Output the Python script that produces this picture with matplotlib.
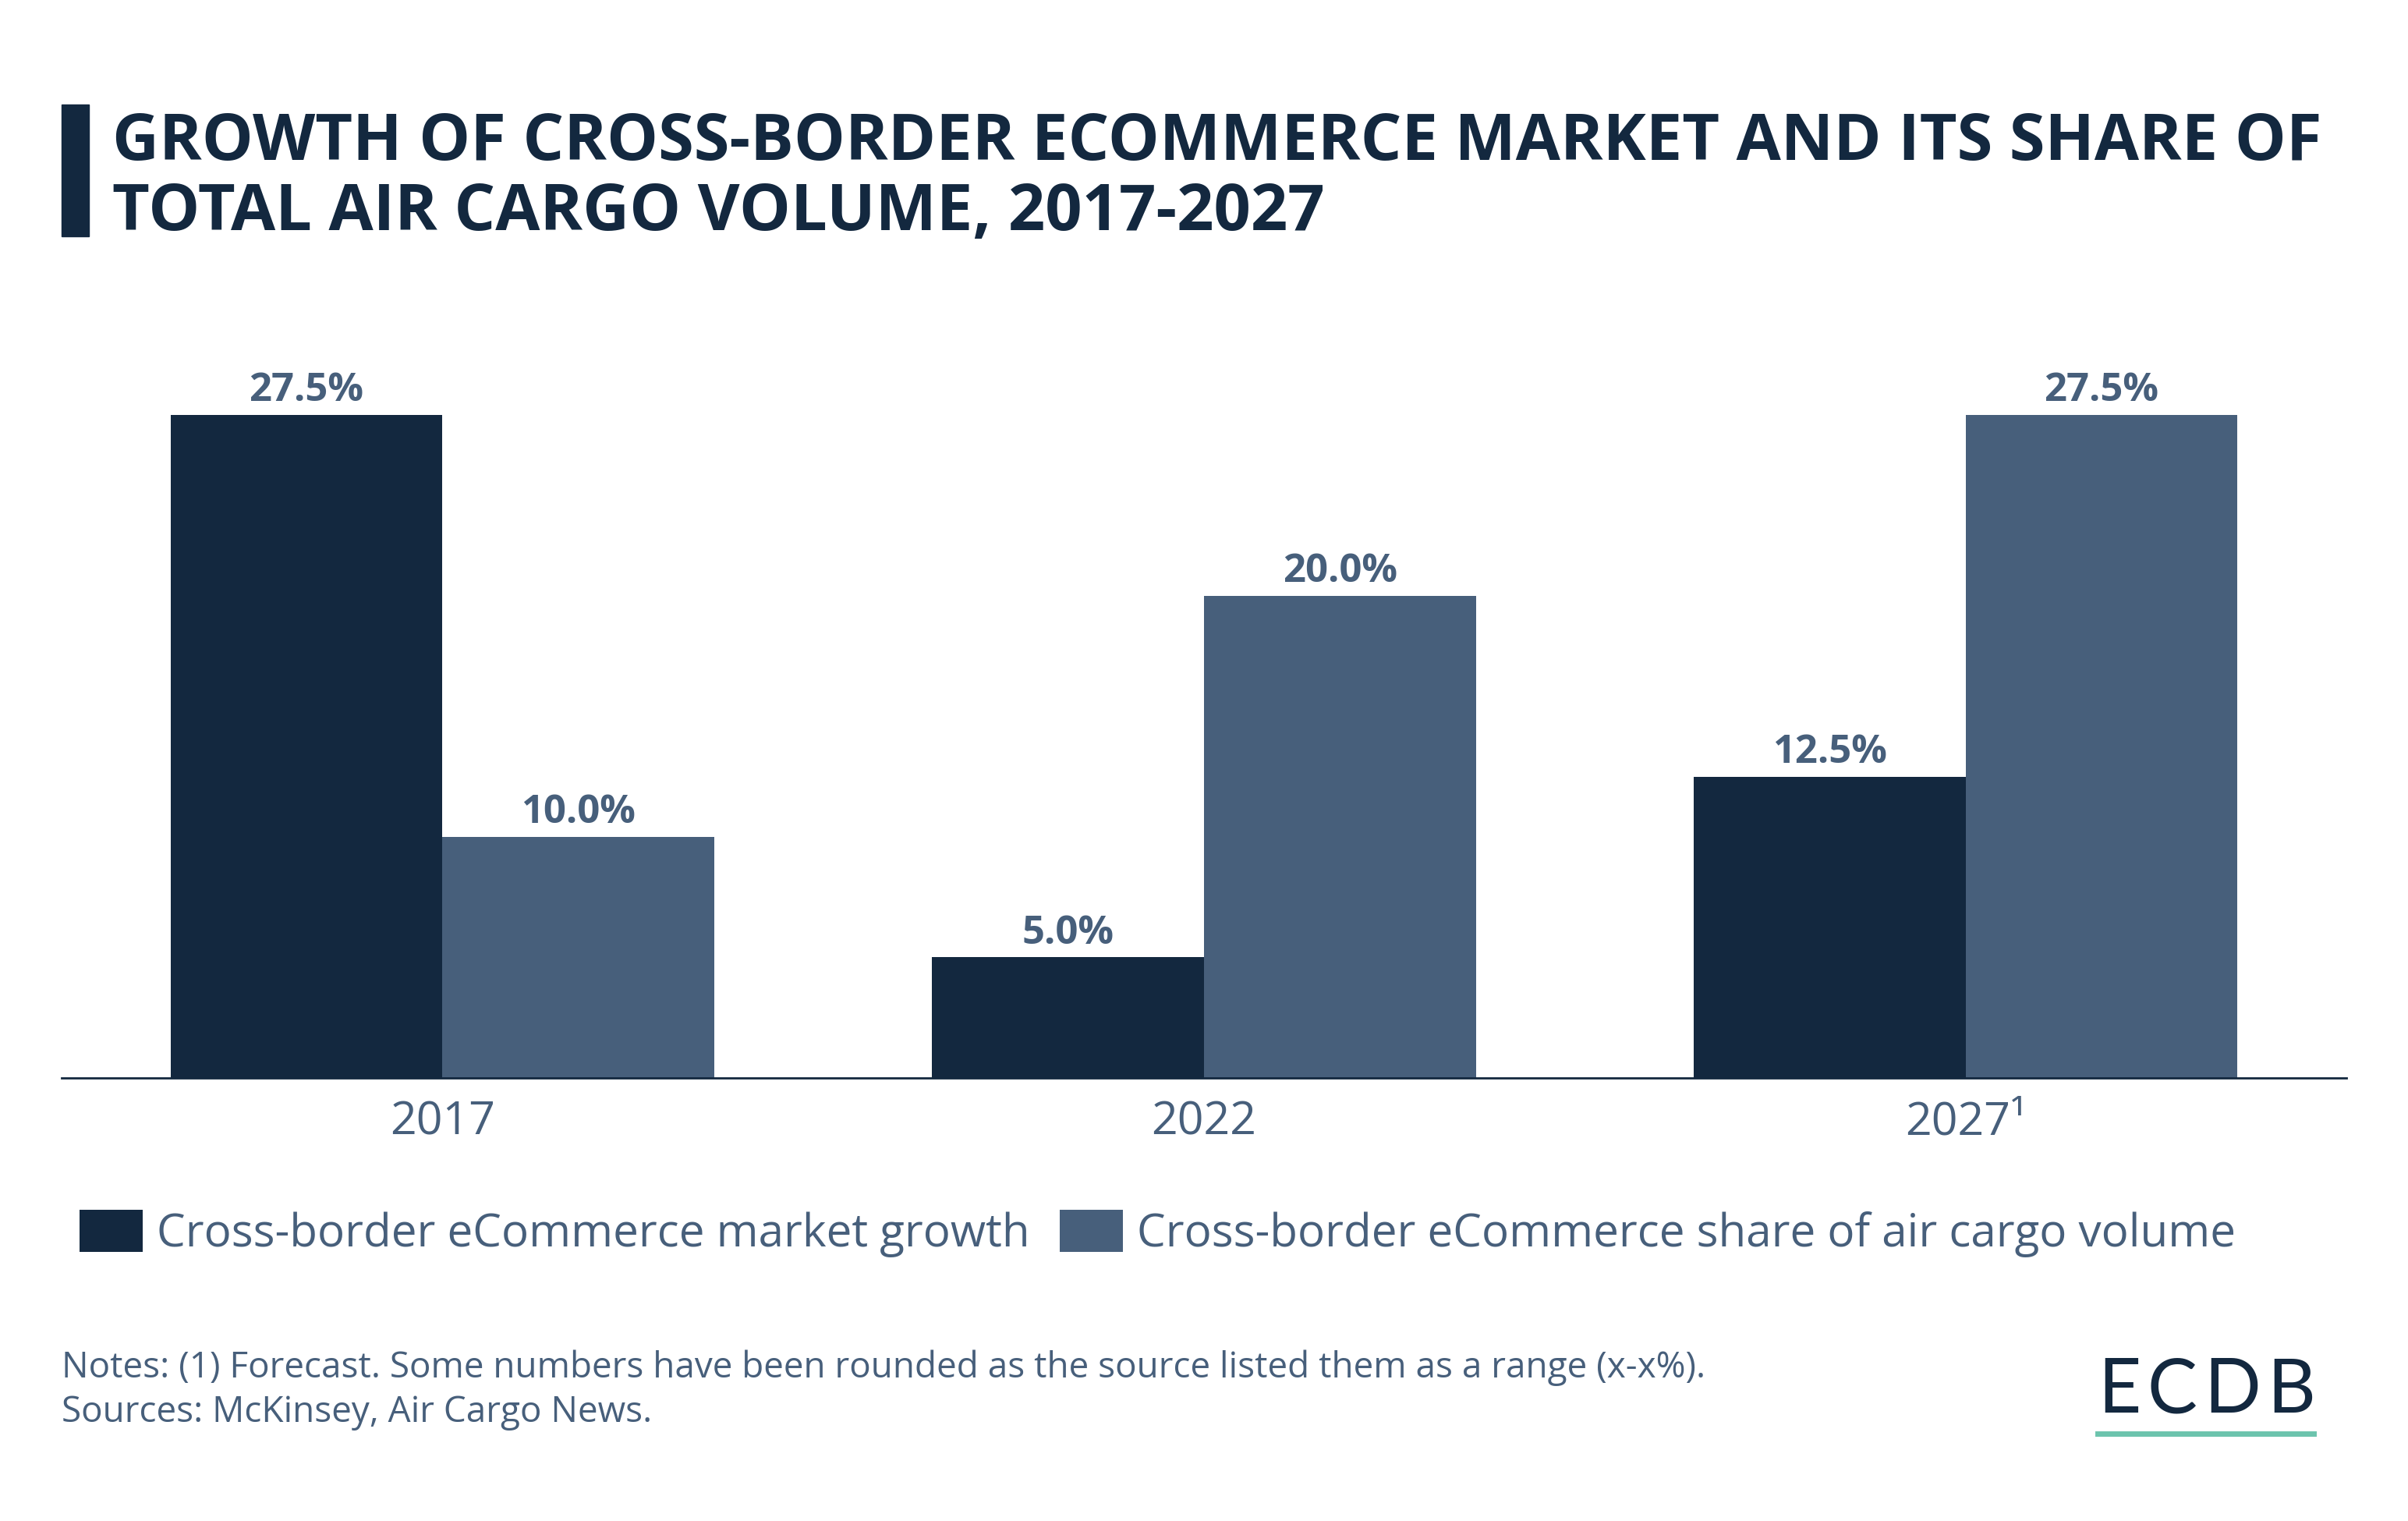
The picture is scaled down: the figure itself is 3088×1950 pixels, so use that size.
import matplotlib.pyplot as plt
import numpy as np

plt.rcParams['font.family'] = ['Open Sans', 'DejaVu Sans']

# data
years = ['2017', '2022', '2027¹']
market_growth = [27.5, 5.0, 12.5]
air_cargo_share = [10.0, 20.0, 27.5]
series_names = ['Cross-border eCommerce market growth',
                'Cross-border eCommerce share of air cargo volume']

dark = '#13283f'
light = '#475f7b'
text_col = '#475f7b'

fig = plt.figure(figsize=(30.88, 19.5), dpi=100)
ax = fig.add_axes([0.0256, 0.2913, 0.9488, 0.5072])

x = np.arange(len(years))
w = 0.357
b1 = ax.bar(x - w / 2, market_growth, w, color=dark, label=series_names[0])
b2 = ax.bar(x + w / 2, air_cargo_share, w, color=light, label=series_names[1])

for bars in (b1, b2):
    ax.bar_label(bars, labels=[f'{v:.1f}%' for v in bars.datavalues],
                 padding=4, fontsize=36.5, fontweight='bold', color=text_col)

ax.set_xlim(-0.5, 2.5)
ax.set_ylim(0, 32)
ax.set_xticks(x)
ax.set_xticklabels(years, fontsize=42.5, color=text_col)
ax.tick_params(axis='x', length=0, pad=20)
ax.set_yticks([])
for s in ['top', 'right', 'left']:
    ax.spines[s].set_visible(False)
ax.spines['bottom'].set_color(dark)
ax.spines['bottom'].set_linewidth(2)

# legend
leg = fig.legend(handles=[b1, b2], loc='center left', bbox_to_anchor=(0.033, 0.189),
                 ncol=2, frameon=False, fontsize=42, labelcolor=text_col,
                 handlelength=1.39, handleheight=1.06, handletextpad=0.31,
                 columnspacing=0.66, borderpad=0, borderaxespad=0)

# title with accent bar
fig.patches.append(plt.Rectangle((79 / 3088, 1 - 303 / 1950), 35 / 3088, 169 / 1950,
                                 transform=fig.transFigure, color=dark))
title_lines = ['GROWTH OF CROSS-BORDER ECOMMERCE MARKET AND ITS SHARE OF',
               'TOTAL AIR CARGO VOLUME, 2017-2027']
for i, line in enumerate(title_lines):
    fig.text(144 / 3088, 1 - (205 + 90 * i) / 1950, line, fontsize=59.7,
             fontweight='bold', color=dark, va='baseline', ha='left')

# notes
fig.text(79 / 3088, 1 - 1766 / 1950,
         'Notes: (1) Forecast. Some numbers have been rounded as the source listed them as a range (x-x%).',
         fontsize=33, color=text_col, va='baseline')
fig.text(79 / 3088, 1 - 1823 / 1950, 'Sources: McKinsey, Air Cargo News.',
         fontsize=33, color=text_col, va='baseline')

# logo, letters spaced out like the original
for ch, cx in zip('ECDB', [2718, 2785, 2863, 2938]):
    fig.text(cx / 3088, 1 - 1811 / 1950, ch, fontsize=69, color=dark,
             ha='center', va='baseline', fontfamily='Lato', fontweight='normal')
fig.add_artist(plt.Line2D([2690 / 3088, 2967 / 3088], [1 - 1838 / 1950, 1 - 1838 / 1950],
                          transform=fig.transFigure, color='#6cc4ad', linewidth=5))

fig.savefig('out.png', dpi=100, facecolor='white')
